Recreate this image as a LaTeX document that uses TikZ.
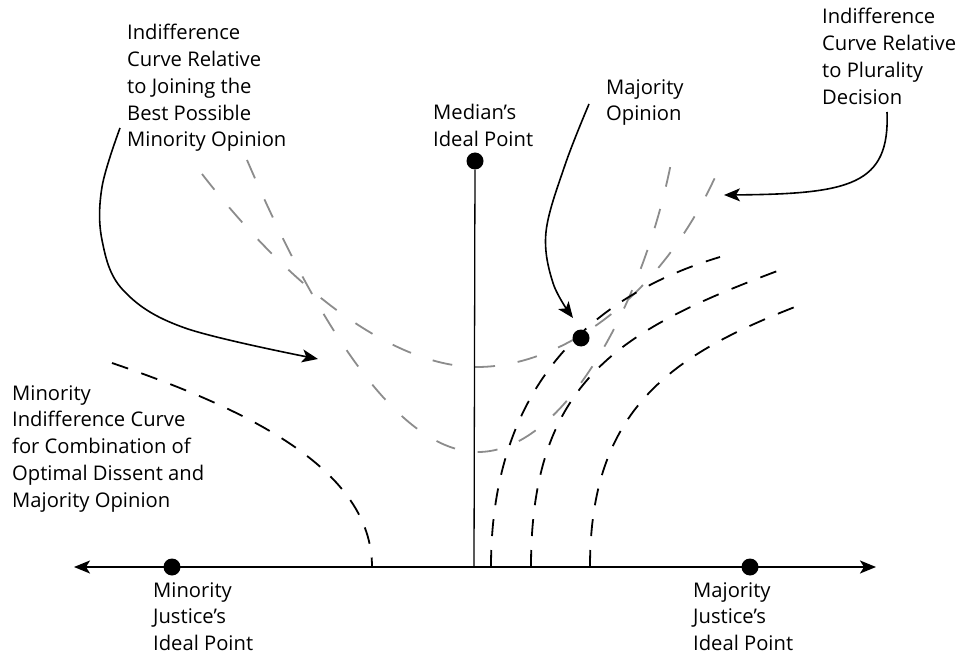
\documentclass[tikz,border=0pt]{standalone}
\usepackage{fontspec}
\setmainfont{Open Sans}
\usetikzlibrary{arrows.meta}

\begin{document}
\begin{tikzpicture}[
  x=1pt, y=-1pt, >={Stealth[length=16pt,width=13pt,inset=4pt]},
  font=\fontsize{20.2}{26.8}\selectfont,
  lab/.style={anchor=north west, align=left, inner sep=0pt},
  dot/.style={circle, fill=black, inner sep=0pt, minimum size=17pt},
  axis/.style={line width=1.8pt},
  note/.style={->, line width=1.6pt},
  icurve/.style={line width=1.8pt, dash pattern=on 17pt off 14pt},
  gcurve/.style={line width=1.8pt, black!45, dash pattern=on 20pt off 23pt}]
\useasboundingbox (0,0) rectangle (956,655);

% positions on the policy line and above it
\coordinate (west) at (74,567);
\coordinate (east) at (876,567);
\coordinate (medfoot) at (474,567);
\coordinate (mo) at (581,338);

% gray indifference curves (joining / plurality)
\draw[gcurve] (202,174) .. controls (300,300) and (400,367) .. (477,367)
  .. controls (560,367) and (660,300) .. (717,173);
\draw[gcurve] (247,160) .. controls (320,330) and (400,452) .. (478,452)
  .. controls (565,452) and (645,300) .. (672,158);

% minority and majority indifference curves
\draw[icurve] (112,363) .. controls (250,410) and (372,470) .. (372,567);
\draw[icurve] (491,567) .. controls (491,397) and (580,299) .. (720,257);
\draw[icurve] (531,567) .. controls (531,380) and (620,330) .. (780,270);
\draw[icurve] (590,567) .. controls (590,410) and (670,355) .. (800,305);

% axis and ideal points
\draw[axis, <->] (west) -- (east);
\node[dot] (minj) at (172,567) {};
\node[dot] (majj) at (750,567) {};
\node[dot] (med) at (475,161) {};
\node[dot] (majop) at (mo) {};
\draw[line width=1.3pt] (med) -- (medfoot);

% labels
\node[lab] (lbljoin) at (127,24) {Indifference\\Curve Relative\\to Joining the\\Best Possible\\Minority Opinion};
\node[lab] (lblmed) at (433,104) {Median’s\\Ideal Point};
\node[lab] (lblmajop) at (606,79) {Majority\\Opinion};
\node[lab] (lblplur) at (822,8) {Indifference\\Curve Relative\\to Plurality\\Decision};
\node[lab] (lblmin) at (12,385) {Minority\\Indifference Curve\\for Combination of\\Optimal Dissent and\\Majority Opinion};
\node[lab] (lblminj) at (153,582) {Minority\\Justice’s\\Ideal Point};
\node[lab] (lblmajj) at (693,582) {Majority\\Justice’s\\Ideal Point};

% pointers from the labels
\coordinate (joinend) at (318,359);
\coordinate (majopend) at (573,318);
\coordinate (plurend) at (724,195);
\draw[note] plot[smooth, tension=0.6] coordinates {(120,128) (102,187) (102,240) (123,290) (185,328) (joinend)};
\draw[note] plot[smooth, tension=0.6] coordinates {(589,104) (565,165) (546,232) (553,283) (majopend)};
\draw[note] (887,112) .. controls (890,185) and (850,194) .. (plurend);
\end{tikzpicture}
\end{document}
